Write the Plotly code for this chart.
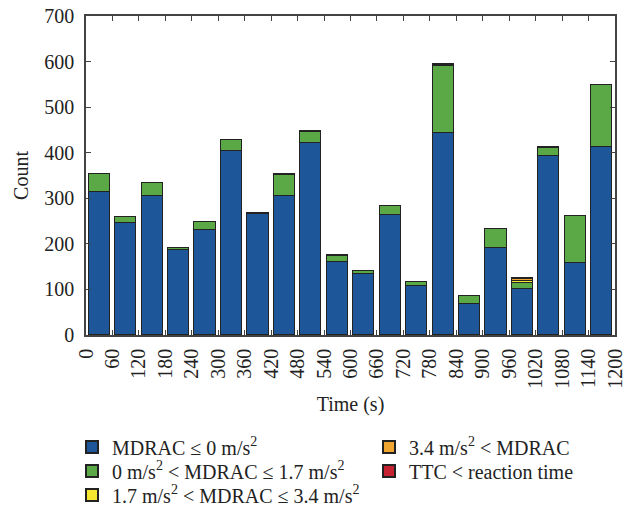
import plotly.graph_objects as go

time_start = [0, 60, 120, 180, 240, 300, 360, 420, 480, 540, 600, 660, 720, 780, 840, 900, 960, 1020, 1080, 1140]
blue = [313, 245, 304, 186, 230, 403, 265, 306, 422, 161, 134, 264, 107, 444, 69, 192, 100, 392, 159, 412]
green = [40, 14, 29, 5, 17, 25, 1, 46, 24, 13, 6, 18, 9, 146, 16, 40, 15, 19, 103, 136]
yellow = [0, 0, 0, 0, 0, 0, 0, 0, 0, 0, 0, 0, 0, 2, 0, 0, 4, 0, 0, 0]
orange = [0, 0, 0, 0, 0, 0, 0, 0, 0, 0, 0, 0, 0, 1, 0, 0, 4, 0, 0, 0]
red = [1, 1, 1, 1, 1, 1, 1, 1, 1, 1, 0, 1, 1, 1, 1, 1, 2, 1, 0, 1]

names = [
    "MDRAC ≤ 0 m/s<sup>2</sup>",
    "0 m/s<sup>2</sup> < MDRAC ≤ 1.7 m/s<sup>2</sup>",
    "1.7 m/s<sup>2</sup> < MDRAC ≤ 3.4 m/s<sup>2</sup>",
    "3.4 m/s<sup>2</sup> < MDRAC",
    "TTC < reaction time",
]
colors = ["#1D5799", "#5AA846", "#F6E630", "#EFA52F", "#C62130"]
series = [blue, green, yellow, orange, red]
legend_ids = ["legend", "legend2", "legend3", "legend4", "legend5"]

x_centers = [t + 30 for t in time_start]

fig = go.Figure()
for name, col, vals, lg in zip(names, colors, series, legend_ids):
    fig.add_trace(go.Bar(
        x=x_centers, y=vals, width=48, name=name, legend=lg, showlegend=True,
        marker=dict(color=col, line=dict(color="#222222", width=1)),
    ))

font_family = "Liberation Serif"
axis_common = dict(
    showline=True, linecolor="#444444", linewidth=1.5, mirror="ticks",
    ticks="inside", ticklen=5, tickcolor="#444444", tickwidth=1,
    showgrid=False, zeroline=False, automargin=False,
    tickfont=dict(family=font_family, size=20, color="#222222"),
)

W, H = 632, 512
legend_pos = [(72, 447), (72, 471), (72, 495), (369, 447), (369, 471)]
legend_layouts = {}
for lg, (lx, ly) in zip(legend_ids, legend_pos):
    legend_layouts[lg] = dict(
        x=lx / W, y=1 - ly / H, xref="container", yref="container",
        xanchor="left", yanchor="middle", visible=True,
        orientation="h", font=dict(family=font_family, size=20, color="#222222"),
        bgcolor="rgba(0,0,0,0)", borderwidth=0, itemsizing="constant",
    )

fig.update_layout(
    barmode="stack",
    showlegend=True,
    width=W, height=H,
    margin=dict(l=86, r=17, t=16, b=177),
    paper_bgcolor="white", plot_bgcolor="white",
    font=dict(family=font_family, size=20, color="#222222"),
    xaxis=dict(range=[0, 1200], tickmode="array", tickvals=list(range(0, 1201, 60)),
               ticktext=[str(v) for v in range(0, 1201, 60)], tickangle=-90,
               ticklabelstandoff=4,
               title=dict(text="Time (s)", font=dict(family=font_family, size=20), standoff=9),
               **axis_common),
    yaxis=dict(range=[0, 700], tickmode="array", tickvals=list(range(0, 701, 100)),
               ticklabelstandoff=6,
               title=dict(text="Count", font=dict(family=font_family, size=20), standoff=10),
               **axis_common),
    bargap=0,
    **legend_layouts,
)

fig.write_html("out.html")
